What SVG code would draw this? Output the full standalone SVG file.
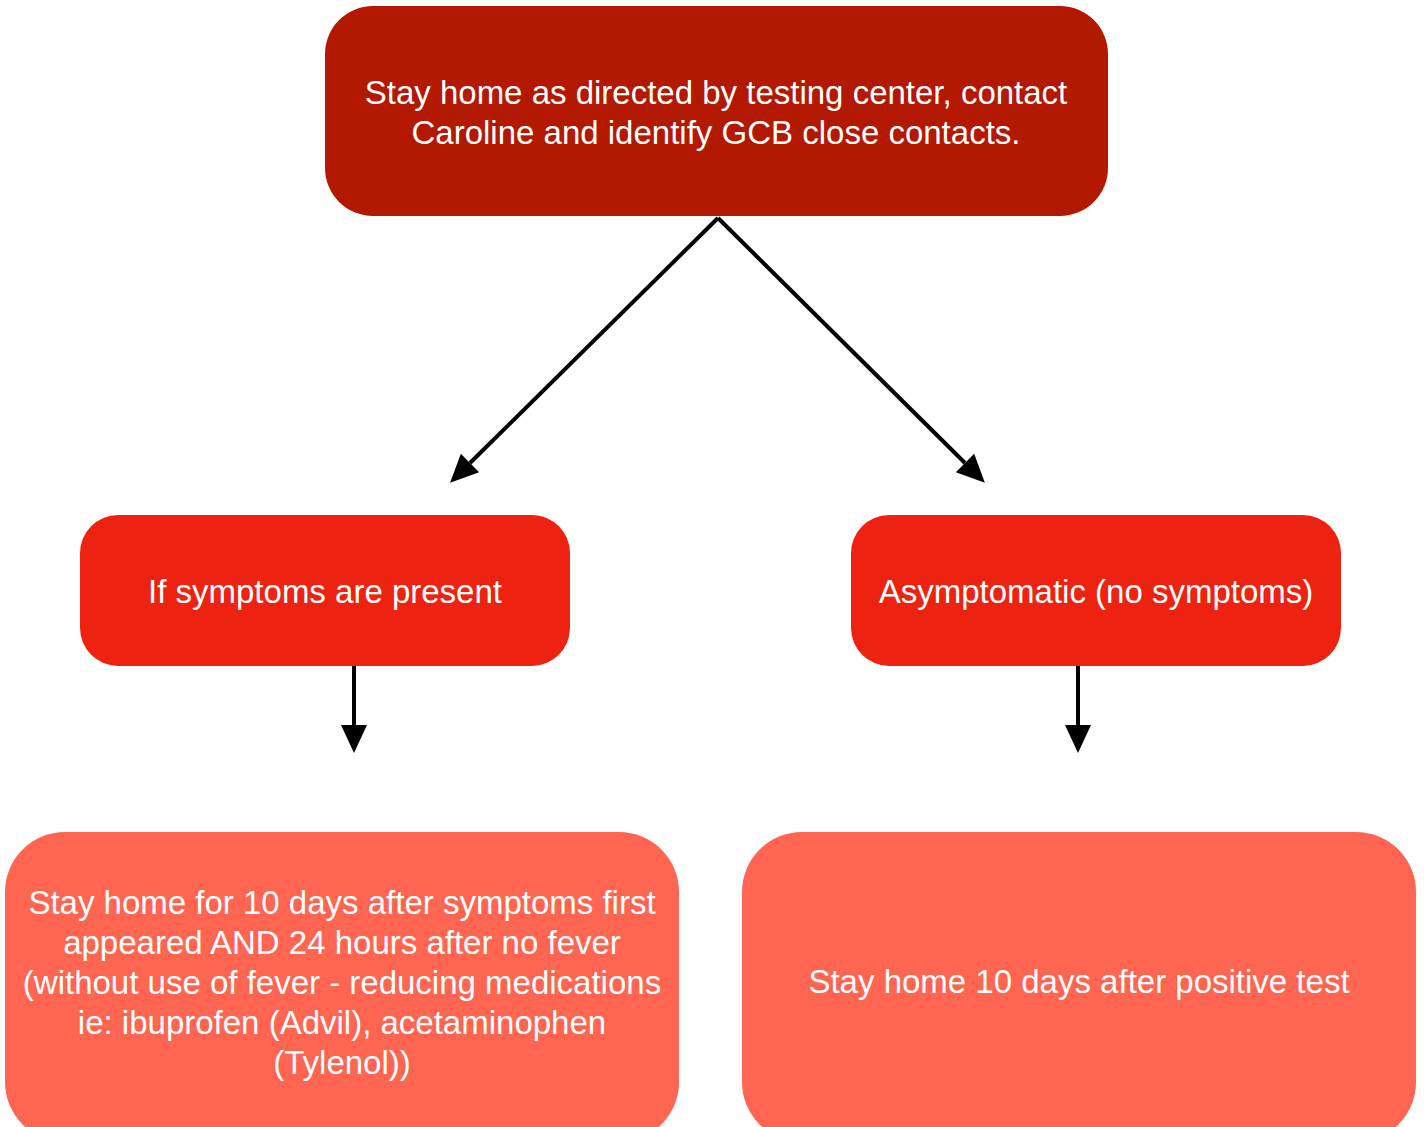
<svg xmlns="http://www.w3.org/2000/svg" width="1424" height="1127" viewBox="0 0 1424 1127">
<style>
text{font-family:"Liberation Sans",Arial,sans-serif;font-size:33px;fill:#fff;text-anchor:middle}
.c{stroke:#000;stroke-width:4;fill:none}
</style>
<defs>
<marker id="ah" markerUnits="userSpaceOnUse" markerWidth="30" markerHeight="30" viewBox="0 -15 30 30" refX="0" refY="0" orient="auto" overflow="visible">
<path d="M0,-13 L28,0 L0,13 Z" fill="#000"/>
</marker>
</defs>
<rect width="1424" height="1127" fill="#fff"/>
<g id="connectors">
<line class="c" x1="718" y1="218" x2="470" y2="463" marker-end="url(#ah)"/>
<line class="c" x1="718" y1="218" x2="965" y2="463" marker-end="url(#ah)"/>
<line class="c" x1="354" y1="666" x2="354" y2="725" marker-end="url(#ah)"/>
<line class="c" x1="1078" y1="666" x2="1078" y2="725" marker-end="url(#ah)"/>
</g>
<g id="top">
<rect x="325" y="6" width="783" height="210" rx="48" fill="#B31800"/>
<text x="716" y="104">Stay home as directed by testing center, contact</text>
<text x="716" y="144">Caroline and identify GCB close contacts.</text>
</g>
<g id="symptoms">
<rect x="80" y="515" width="490" height="151" rx="38" fill="#EE2210"/>
<text x="325" y="603">If symptoms are present</text>
</g>
<g id="asymptomatic">
<rect x="851" y="515" width="490" height="151" rx="38" fill="#EE2210"/>
<text x="1096" y="603">Asymptomatic (no symptoms)</text>
</g>
<g id="symptomsResult">
<rect x="5" y="832" width="674" height="310" rx="60" fill="#FF6550"/>
<text x="342" y="914">Stay home for 10 days after symptoms first</text>
<text x="342" y="954">appeared AND 24 hours after no fever</text>
<text x="342" y="994">(without use of fever - reducing medications</text>
<text x="342" y="1034">ie: ibuprofen (Advil), acetaminophen</text>
<text x="342" y="1074">(Tylenol))</text>
</g>
<g id="asymptomaticResult">
<rect x="742" y="832" width="674" height="310" rx="60" fill="#FF6550"/>
<text x="1079" y="993">Stay home 10 days after positive test</text>
</g>
</svg>
